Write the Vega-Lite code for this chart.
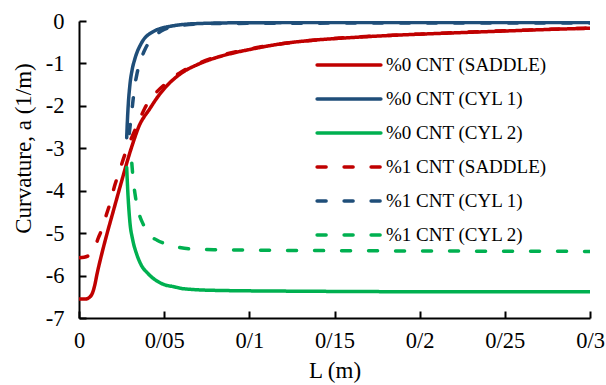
{
  "$schema": "https://vega.github.io/schema/vega-lite/v6.json",
  "width": 511,
  "height": 297,
  "autosize": {"type": "none"},
  "padding": {"left": 79, "top": 21, "right": 16, "bottom": 67},
  "background": "white",
  "config": {
    "view": {"stroke": null},
    "font": "'Liberation Serif', 'Times New Roman', Tinos, 'DejaVu Serif', serif"
  },
  "data": {
    "values": [
      {"s": "%0 CNT (SADDLE)", "x": 0, "y": -6.55},
      {"s": "%0 CNT (SADDLE)", "x": 0.004, "y": -6.55},
      {"s": "%0 CNT (SADDLE)", "x": 0.0065, "y": -6.5},
      {"s": "%0 CNT (SADDLE)", "x": 0.008, "y": -6.4},
      {"s": "%0 CNT (SADDLE)", "x": 0.0094, "y": -6.2},
      {"s": "%0 CNT (SADDLE)", "x": 0.0105, "y": -5.98},
      {"s": "%0 CNT (SADDLE)", "x": 0.0133, "y": -5.5},
      {"s": "%0 CNT (SADDLE)", "x": 0.016, "y": -5.08},
      {"s": "%0 CNT (SADDLE)", "x": 0.02, "y": -4.5},
      {"s": "%0 CNT (SADDLE)", "x": 0.025, "y": -3.78},
      {"s": "%0 CNT (SADDLE)", "x": 0.0295, "y": -3.15},
      {"s": "%0 CNT (SADDLE)", "x": 0.0319, "y": -2.85},
      {"s": "%0 CNT (SADDLE)", "x": 0.035, "y": -2.5},
      {"s": "%0 CNT (SADDLE)", "x": 0.0417, "y": -2.06},
      {"s": "%0 CNT (SADDLE)", "x": 0.046, "y": -1.8},
      {"s": "%0 CNT (SADDLE)", "x": 0.0515, "y": -1.53},
      {"s": "%0 CNT (SADDLE)", "x": 0.0612, "y": -1.2},
      {"s": "%0 CNT (SADDLE)", "x": 0.07, "y": -1.02},
      {"s": "%0 CNT (SADDLE)", "x": 0.0808, "y": -0.86},
      {"s": "%0 CNT (SADDLE)", "x": 0.09, "y": -0.76},
      {"s": "%0 CNT (SADDLE)", "x": 0.1004, "y": -0.67},
      {"s": "%0 CNT (SADDLE)", "x": 0.12, "y": -0.53},
      {"s": "%0 CNT (SADDLE)", "x": 0.1356, "y": -0.46},
      {"s": "%0 CNT (SADDLE)", "x": 0.16, "y": -0.39},
      {"s": "%0 CNT (SADDLE)", "x": 0.1885, "y": -0.33},
      {"s": "%0 CNT (SADDLE)", "x": 0.22, "y": -0.28},
      {"s": "%0 CNT (SADDLE)", "x": 0.2472, "y": -0.24},
      {"s": "%0 CNT (SADDLE)", "x": 0.275, "y": -0.2},
      {"s": "%0 CNT (SADDLE)", "x": 0.3, "y": -0.17},

      {"s": "%0 CNT (CYL 1)", "x": 0.028, "y": -2.75},
      {"s": "%0 CNT (CYL 1)", "x": 0.0283, "y": -2.45},
      {"s": "%0 CNT (CYL 1)", "x": 0.0288, "y": -2.05},
      {"s": "%0 CNT (CYL 1)", "x": 0.0299, "y": -1.5},
      {"s": "%0 CNT (CYL 1)", "x": 0.0312, "y": -1.15},
      {"s": "%0 CNT (CYL 1)", "x": 0.0329, "y": -0.88},
      {"s": "%0 CNT (CYL 1)", "x": 0.0368, "y": -0.51},
      {"s": "%0 CNT (CYL 1)", "x": 0.0427, "y": -0.27},
      {"s": "%0 CNT (CYL 1)", "x": 0.0544, "y": -0.12},
      {"s": "%0 CNT (CYL 1)", "x": 0.07, "y": -0.06},
      {"s": "%0 CNT (CYL 1)", "x": 0.1, "y": -0.04},
      {"s": "%0 CNT (CYL 1)", "x": 0.2, "y": -0.035},
      {"s": "%0 CNT (CYL 1)", "x": 0.3, "y": -0.035},

      {"s": "%0 CNT (CYL 2)", "x": 0.028, "y": -3.45},
      {"s": "%0 CNT (CYL 2)", "x": 0.0285, "y": -3.9},
      {"s": "%0 CNT (CYL 2)", "x": 0.0299, "y": -4.75},
      {"s": "%0 CNT (CYL 2)", "x": 0.0315, "y": -5.15},
      {"s": "%0 CNT (CYL 2)", "x": 0.0339, "y": -5.5},
      {"s": "%0 CNT (CYL 2)", "x": 0.0365, "y": -5.75},
      {"s": "%0 CNT (CYL 2)", "x": 0.0407, "y": -5.96},
      {"s": "%0 CNT (CYL 2)", "x": 0.0486, "y": -6.19},
      {"s": "%0 CNT (CYL 2)", "x": 0.0564, "y": -6.27},
      {"s": "%0 CNT (CYL 2)", "x": 0.0612, "y": -6.31},
      {"s": "%0 CNT (CYL 2)", "x": 0.081, "y": -6.35},
      {"s": "%0 CNT (CYL 2)", "x": 0.1356, "y": -6.37},
      {"s": "%0 CNT (CYL 2)", "x": 0.2, "y": -6.38},
      {"s": "%0 CNT (CYL 2)", "x": 0.3, "y": -6.38},

      {"s": "%1 CNT (SADDLE)", "x": 0, "y": -5.58},
      {"s": "%1 CNT (SADDLE)", "x": 0.003, "y": -5.57},
      {"s": "%1 CNT (SADDLE)", "x": 0.0065, "y": -5.5},
      {"s": "%1 CNT (SADDLE)", "x": 0.009, "y": -5.36},
      {"s": "%1 CNT (SADDLE)", "x": 0.0113, "y": -5.12},
      {"s": "%1 CNT (SADDLE)", "x": 0.0133, "y": -4.92},
      {"s": "%1 CNT (SADDLE)", "x": 0.0162, "y": -4.55},
      {"s": "%1 CNT (SADDLE)", "x": 0.0182, "y": -4.3},
      {"s": "%1 CNT (SADDLE)", "x": 0.0211, "y": -3.86},
      {"s": "%1 CNT (SADDLE)", "x": 0.0231, "y": -3.62},
      {"s": "%1 CNT (SADDLE)", "x": 0.027, "y": -3.14},
      {"s": "%1 CNT (SADDLE)", "x": 0.0309, "y": -2.75},
      {"s": "%1 CNT (SADDLE)", "x": 0.035, "y": -2.38},
      {"s": "%1 CNT (SADDLE)", "x": 0.0387, "y": -2.05},
      {"s": "%1 CNT (SADDLE)", "x": 0.045, "y": -1.7},
      {"s": "%1 CNT (SADDLE)", "x": 0.052, "y": -1.44},
      {"s": "%1 CNT (SADDLE)", "x": 0.06, "y": -1.2},
      {"s": "%1 CNT (SADDLE)", "x": 0.07, "y": -1.0},
      {"s": "%1 CNT (SADDLE)", "x": 0.08, "y": -0.85},
      {"s": "%1 CNT (SADDLE)", "x": 0.1, "y": -0.66},
      {"s": "%1 CNT (SADDLE)", "x": 0.12, "y": -0.53},
      {"s": "%1 CNT (SADDLE)", "x": 0.15, "y": -0.41},
      {"s": "%1 CNT (SADDLE)", "x": 0.2, "y": -0.31},
      {"s": "%1 CNT (SADDLE)", "x": 0.25, "y": -0.23},
      {"s": "%1 CNT (SADDLE)", "x": 0.3, "y": -0.17},

      {"s": "%1 CNT (CYL 1)", "x": 0.0295, "y": -2.65},
      {"s": "%1 CNT (CYL 1)", "x": 0.0305, "y": -2.3},
      {"s": "%1 CNT (CYL 1)", "x": 0.0315, "y": -1.95},
      {"s": "%1 CNT (CYL 1)", "x": 0.0325, "y": -1.6},
      {"s": "%1 CNT (CYL 1)", "x": 0.034, "y": -1.25},
      {"s": "%1 CNT (CYL 1)", "x": 0.036, "y": -0.95},
      {"s": "%1 CNT (CYL 1)", "x": 0.039, "y": -0.65},
      {"s": "%1 CNT (CYL 1)", "x": 0.044, "y": -0.37},
      {"s": "%1 CNT (CYL 1)", "x": 0.05, "y": -0.2},
      {"s": "%1 CNT (CYL 1)", "x": 0.06, "y": -0.1},
      {"s": "%1 CNT (CYL 1)", "x": 0.08, "y": -0.06},
      {"s": "%1 CNT (CYL 1)", "x": 0.15, "y": -0.05},
      {"s": "%1 CNT (CYL 1)", "x": 0.3, "y": -0.05},

      {"s": "%1 CNT (CYL 2)", "x": 0.031, "y": -3.35},
      {"s": "%1 CNT (CYL 2)", "x": 0.0315, "y": -3.6},
      {"s": "%1 CNT (CYL 2)", "x": 0.0329, "y": -4.08},
      {"s": "%1 CNT (CYL 2)", "x": 0.035, "y": -4.5},
      {"s": "%1 CNT (CYL 2)", "x": 0.0378, "y": -4.8},
      {"s": "%1 CNT (CYL 2)", "x": 0.0427, "y": -5.09},
      {"s": "%1 CNT (CYL 2)", "x": 0.0456, "y": -5.16},
      {"s": "%1 CNT (CYL 2)", "x": 0.0505, "y": -5.25},
      {"s": "%1 CNT (CYL 2)", "x": 0.058, "y": -5.33},
      {"s": "%1 CNT (CYL 2)", "x": 0.065, "y": -5.37},
      {"s": "%1 CNT (CYL 2)", "x": 0.08, "y": -5.39},
      {"s": "%1 CNT (CYL 2)", "x": 0.1356, "y": -5.41},
      {"s": "%1 CNT (CYL 2)", "x": 0.2, "y": -5.42},
      {"s": "%1 CNT (CYL 2)", "x": 0.3, "y": -5.43}
    ]
  },
  "mark": {"type": "line", "strokeWidth": 3.5, "strokeCap": "round", "interpolate": "monotone", "clip": true},
  "encoding": {
    "x": {
      "field": "x", "type": "quantitative",
      "scale": {"domain": [0, 0.3], "nice": false},
      "axis": {
        "title": "L (m)",
        "values": [0, 0.05, 0.1, 0.15, 0.2, 0.25, 0.3],
        "format": ".2~f",
        "labelExpr": "replace(datum.label, '.', '/')",
        "grid": false,
        "domainColor": "black", "domainWidth": 2,
        "tickColor": "black", "tickWidth": 2, "tickSize": -7,
        "labelFont": "'Liberation Serif', 'Times New Roman', Tinos, 'DejaVu Serif', serif", "labelFontSize": 22.5, "labelColor": "black",
        "labelBaseline": "alphabetic", "labelPadding": 36, "labelFlush": false, "labelOverlap": false,
        "titleFont": "'Liberation Serif', 'Times New Roman', Tinos, 'DejaVu Serif', serif", "titleFontSize": 23, "titleFontWeight": "normal", "titleColor": "black",
        "titlePadding": 8
      }
    },
    "y": {
      "field": "y", "type": "quantitative",
      "scale": {"domain": [-7, 0], "nice": false},
      "axis": {
        "title": "Curvature, a (1/m)",
        "values": [-7, -6, -5, -4, -3, -2, -1, 0],
        "labelExpr": "'' + datum.value",
        "grid": false,
        "domainColor": "black", "domainWidth": 2,
        "tickColor": "black", "tickWidth": 2, "tickSize": -7,
        "labelFont": "'Liberation Serif', 'Times New Roman', Tinos, 'DejaVu Serif', serif", "labelFontSize": 22.5, "labelColor": "black",
        "labelPadding": 22, "labelFlush": false, "labelOverlap": false,
        "titleFont": "'Liberation Serif', 'Times New Roman', Tinos, 'DejaVu Serif', serif", "titleFontSize": 23, "titleFontWeight": "normal", "titleColor": "black",
        "titlePadding": 10, "titleY": 127
      }
    },
    "color": {
      "field": "s", "type": "nominal",
      "scale": {
        "domain": ["%0 CNT (SADDLE)", "%0 CNT (CYL 1)", "%0 CNT (CYL 2)", "%1 CNT (SADDLE)", "%1 CNT (CYL 1)", "%1 CNT (CYL 2)"],
        "range": ["#C00000", "#1F4E79", "#00B050", "#C00000", "#1F4E79", "#00B050"]
      },
      "legend": {
        "title": null,
        "orient": "none",
        "legendX": 257,
        "legendY": 31,
        "padding": 0,
        "symbolType": "M-2.9,0H2.9",
        "symbolSize": 484,
        "symbolStrokeWidth": 3.5,
        "labelFont": "'Liberation Serif', 'Times New Roman', Tinos, 'DejaVu Serif', serif",
        "labelFontSize": 19,
        "labelColor": "black",
        "labelLimit": 300,
        "labelOffset": 24,
        "rowPadding": 11,
        "encode": {"symbols": {"update": {"strokeCap": {"value": "round"}}}}
      }
    },
    "strokeDash": {
      "field": "s", "type": "nominal",
      "scale": {
        "domain": ["%0 CNT (SADDLE)", "%0 CNT (CYL 1)", "%0 CNT (CYL 2)", "%1 CNT (SADDLE)", "%1 CNT (CYL 1)", "%1 CNT (CYL 2)"],
        "range": [[1, 0], [1, 0], [1, 0], [9, 18], [9, 18], [9, 18]]
      }
    }
  }
}
